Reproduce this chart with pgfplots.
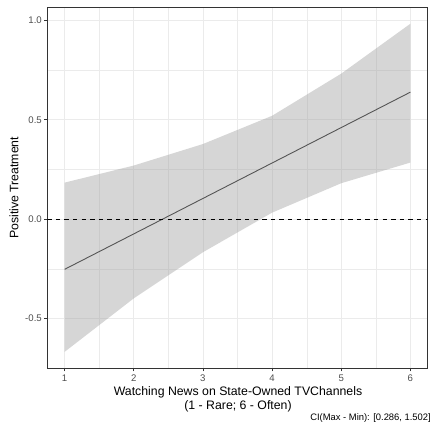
\documentclass[border=0pt]{standalone}
\usepackage{pgfplots}
\pgfplotsset{compat=1.18}
\usepackage{fontspec}
\setmainfont{Liberation Sans}
\definecolor{gridc}{HTML}{EBEBEB}
\definecolor{gray30}{HTML}{4D4D4D}
\definecolor{gray20}{HTML}{333333}
\definecolor{ribbon}{HTML}{999999}
\definecolor{linec}{HTML}{555555}
\begin{document}
\begin{tikzpicture}[x=1pt,y=1pt]
\useasboundingbox (0,0) rectangle (432,429);
\begin{axis}[at={(47.3pt,60.7pt)}, anchor=south west,
  width=380.4pt, height=361pt, scale only axis,
  xmin=0.75, xmax=6.25, ymin=-0.7495, ymax=1.0655,
  xtick={1,2,3,4,5,6},
  ytick={-0.5,0,0.5,1}, yticklabels={-0.5,0.0,0.5,1.0},
  minor xtick={1.5,2.5,3.5,4.5,5.5},
  minor ytick={-0.25,0.25,0.75},
  grid=both,
  major grid style={color=gridc, line width=0.6pt},
  minor grid style={color=gridc, line width=0.3pt},
  axis line style={gray20, line width=0.6pt},
  tick style={gray20, line width=0.6pt},
  major tick length=3pt, minor tick length=0pt,
  tick align=outside, xtick pos=bottom, ytick pos=left,
  ticklabel style={font=\fontsize{9.6}{11}\selectfont, text=gray30},
  yticklabel style={xshift=1pt},
  /pgf/number format/assume math mode=true,
]
\addplot[draw=none, fill=ribbon, fill opacity=0.4] coordinates {
  (1,0.184) (2,0.27) (3,0.378) (4,0.52) (5,0.732) (6,0.983)
  (6,0.285) (5,0.181) (4,0.033) (3,-0.166) (2,-0.398) (1,-0.667)
} -- cycle;
\addplot[linec, line width=0.9pt] coordinates {(1,-0.252) (6,0.639)};
\addplot[black, line width=0.9pt, dash pattern=on 4.3pt off 4.3pt] coordinates {(0.75,0) (6.25,0)};
\end{axis}
\node[rotate=90, font=\fontsize{12.3}{14}\selectfont] at (14,241.2) {Positive Treatment};
\node[align=center, font=\fontsize{12.3}{13.8}\selectfont] at (238,29.3) {Watching News on State-Owned TVChannels\\(1 - Rare; 6 - Often)};
\node[anchor=east, inner sep=0pt, font=\fontsize{9.4}{11}\selectfont] at (431,11) {CI(Max - Min): [0.286, 1.502]};
\end{tikzpicture}
\end{document}
